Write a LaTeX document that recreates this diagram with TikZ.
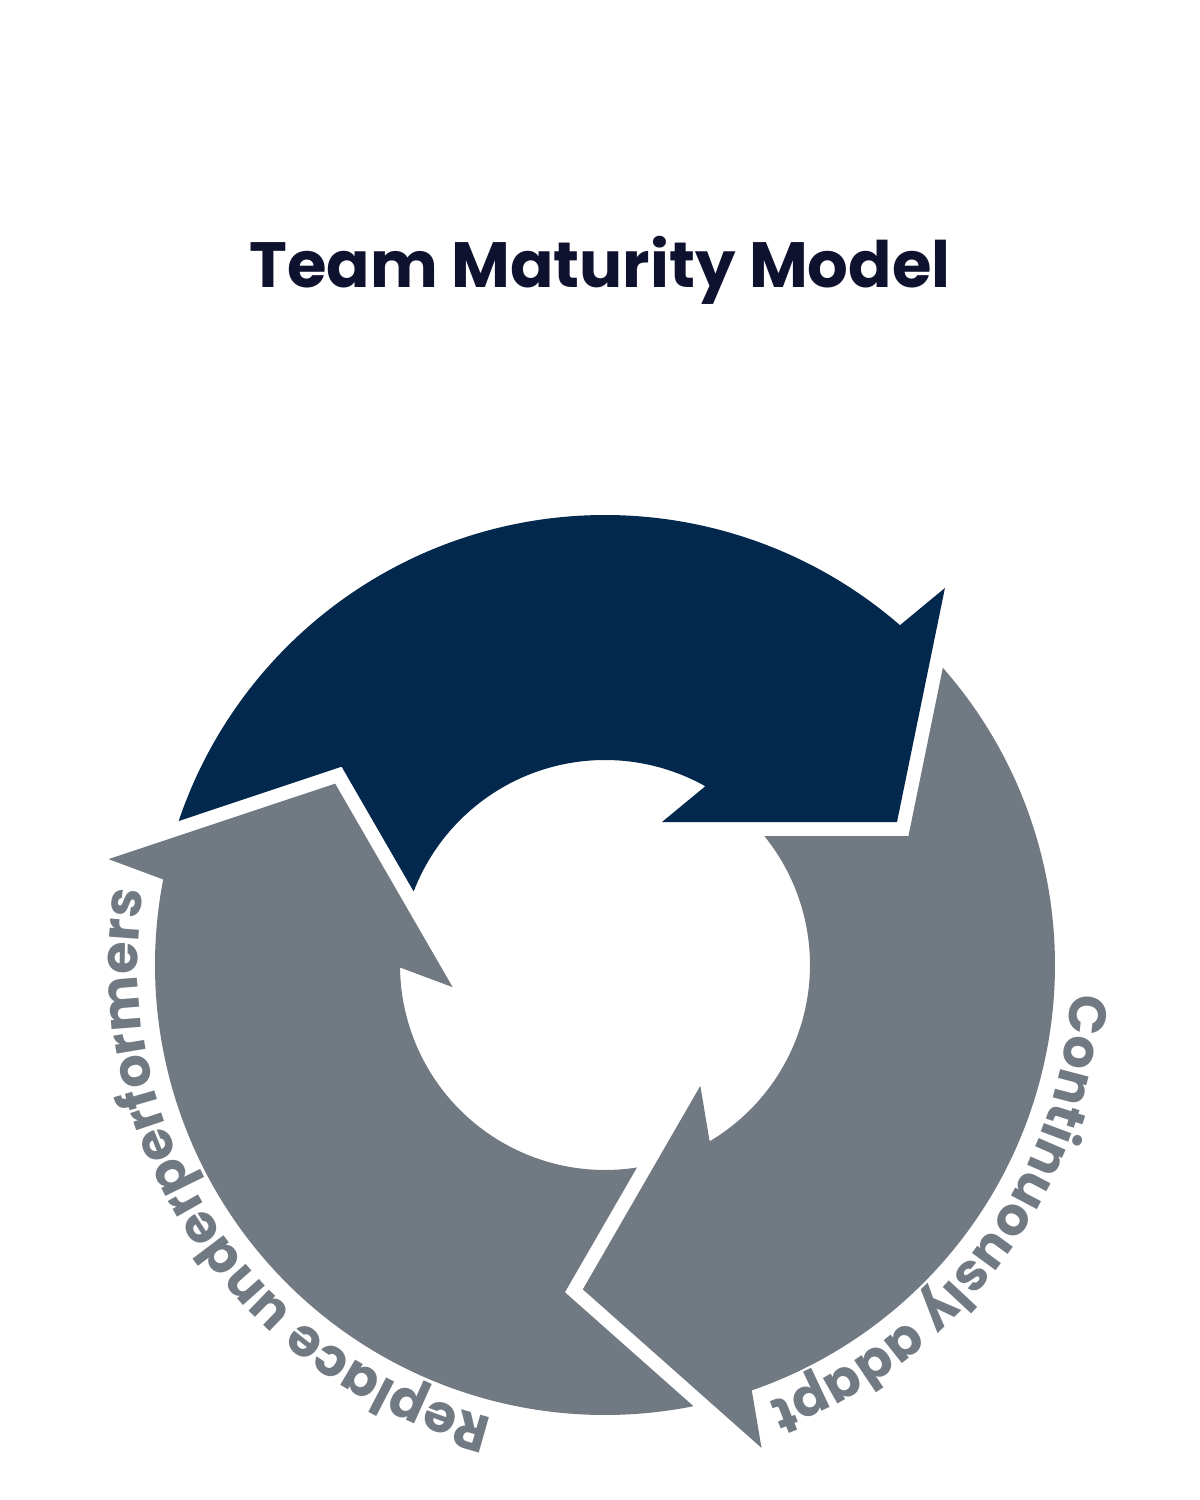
\documentclass[tikz,border=0pt]{standalone}
\usepackage{fontspec}
\newfontfamily\popf{Poppins}
\usetikzlibrary{decorations.text}
\definecolor{navyc}{RGB}{3,40,77}
\definecolor{grayc}{RGB}{113,122,130}
\definecolor{titlec}{RGB}{14,18,46}
\begin{document}
\begin{tikzpicture}[x=1pt,y=1pt,
  titlestyle/.style={font=\popf\bfseries\fontsize{64}{70}\selectfont, text=titlec, inner sep=0pt},
  ringtext/.style={decorate, decoration={text along path, text align=center, text color=grayc,
     text={|\popf\bfseries\fontsize{52.5}{58}\selectfont|#1}}}]
\fill[white] (-605,-535) rectangle (595,965);
\useasboundingbox (-605,-535) rectangle (595,965);
% title
\node[titlestyle, anchor=base] (title) at (-5,677) {Team Maturity Model};
% three arrows of the cycle
\foreach \a/\c in {0/navyc,-120/grayc,120/grayc}{
  \fill[\c] ({161.34+\a}:450) arc[start angle={161.34+\a}, end angle={49.04+\a}, radius=450pt]
    -- ({47.96+\a}:507.67) -- ({26.09+\a}:325.13) -- ({68.27+\a}:153.94)
    -- ({60.70+\a}:205) arc[start angle={60.70+\a}, end angle={158.97+\a}, radius=205pt]
    -- ({143.02+\a}:329.7) -- cycle;
}
% curved labels
\path[ringtext={Continuously adapt}] (8.5:467) arc[start angle=8.5, end angle=-81.5, radius=467pt];
\path[ringtext={Replace underperformers}] (268.5:467) arc[start angle=268.5, end angle=158.5, radius=467pt];
\end{tikzpicture}
\end{document}
